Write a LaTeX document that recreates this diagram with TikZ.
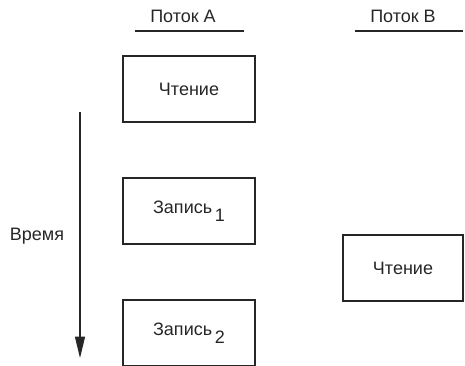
\documentclass[tikz,border=0pt]{standalone}
\usepackage{fontspec}
\setmainfont{Liberation Sans}
\usepackage{tikz}
\usetikzlibrary{arrows.meta,positioning}
\tikzset{
  every picture/.style={line cap=butt, line join=miter},
  lbl/.style={font=\fontsize{13.5}{16}\selectfont, text=black!85},
  opbox/.style={lbl, draw=black!85, line width=0.9pt, minimum width=99pt,
    minimum height=49.5pt, inner sep=0pt},
  hdrline/.style={black!85, line width=0.8pt},
  timeline/.style={black!85, line width=0.9pt,
    -{Triangle[length=16pt,width=7.5pt]}},
}
\newcommand{\idx}[1]{\hspace{0.15em}\raisebox{-0.42em}{#1}}

\begin{document}
\begin{tikzpicture}[x=0.75pt, y=-0.75pt]
\useasboundingbox (0,0) rectangle (465,365);
% column headers
\node[lbl] (hdrA) at (183,16) {Поток А};
\node[lbl] (hdrB) at (403,16) {Поток B};
\coordinate (hdrAl) at (135,31); \coordinate (hdrAr) at (244,31);
\coordinate (hdrBl) at (355,31); \coordinate (hdrBr) at (463,31);
\draw[hdrline] (hdrAl) -- (hdrAr);
\draw[hdrline] (hdrBl) -- (hdrBr);
% thread A
\node[opbox] (readA) at (189,89) {Чтение};
\node[opbox] (writeA1) at (189,211) {Запись\idx{1}};
\node[opbox] (writeA2) at (189,333) {Запись\idx{2}};
% thread B
\node[opbox, minimum width=90pt] (readB) at (403,268) {Чтение};
% time axis
\coordinate (timeTop) at (80,112);
\coordinate (timeEnd) at (80,358);
\draw[timeline] (timeTop) -- (timeEnd);
\node[lbl] (timeLbl) at (37,236) {Время};
\end{tikzpicture}
\end{document}
